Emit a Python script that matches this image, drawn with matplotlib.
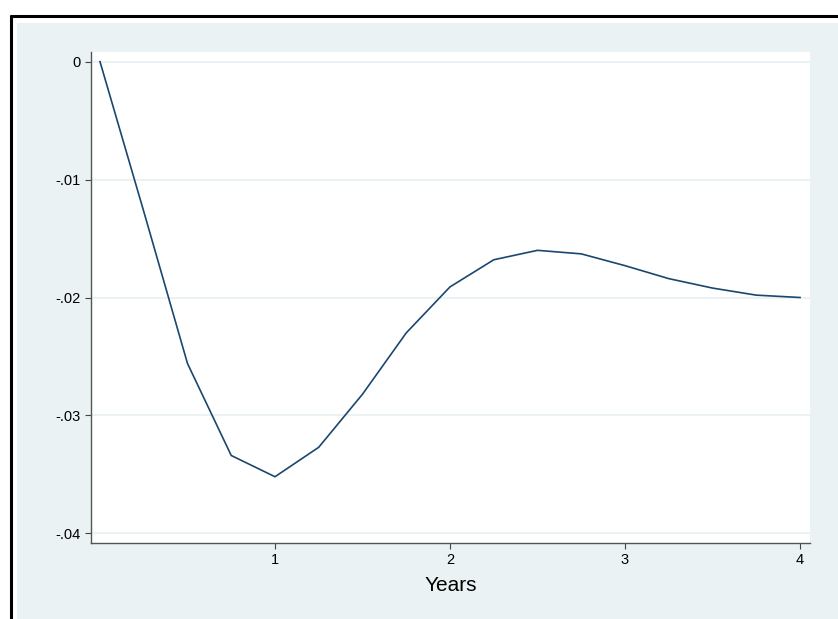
import matplotlib
matplotlib.use("Agg")
import matplotlib.pyplot as plt
from matplotlib.lines import Line2D
from matplotlib.patches import Rectangle

# quarterly response
years = [0, 0.25, 0.5, 0.75, 1, 1.25, 1.5, 1.75, 2,
         2.25, 2.5, 2.75, 3, 3.25, 3.5, 3.75, 4]
response = [0.0, -0.0127, -0.0256, -0.0334, -0.0352, -0.0327, -0.0282,
            -0.0230, -0.0191, -0.0168, -0.0160, -0.0163, -0.0173,
            -0.0184, -0.0192, -0.0198, -0.0200]

yticks = [0, -0.01, -0.02, -0.03, -0.04]
ytick_labels = ["0", "-.01", "-.02", "-.03", "-.04"]
xticks = [1, 2, 3, 4]
xlabel = "Years"

W, H = 838, 619
PANEL = "#eaf2f3"
NAVY = "#1a476f"

plt.rcParams["font.family"] = ["Liberation Sans", "DejaVu Sans"]

fig = plt.figure(figsize=(W / 100, H / 100), dpi=100)
fig.patch.set_facecolor("white")


def fx(px):
    return px / W


def fy(py):
    return 1 - py / H


# light panel and the black outer frame (cut off at right/bottom)
fig.add_artist(Rectangle((fx(17), 0), 1 - fx(17), fy(23), transform=fig.transFigure,
                         facecolor=PANEL, edgecolor="none", zorder=0))
fig.add_artist(Line2D([fx(10.5), fx(10.5)], [0, fy(15)], transform=fig.transFigure,
                      color="black", linewidth=2.2, solid_capstyle="butt"))
fig.add_artist(Line2D([fx(9.5), 1], [fy(16), fy(16)], transform=fig.transFigure,
                      color="black", linewidth=2.2, solid_capstyle="butt"))

ax = fig.add_axes([fx(91), fy(543), fx(810) - fx(91), fy(52) - fy(543)])
ax.set_facecolor("white")

ax.plot(years, response, color=NAVY, linewidth=1.2, zorder=3)

ax.set_xlim(-0.0514, 4.057)
ax.set_ylim(-0.04082, 0.00082)
ax.set_xticks(xticks)
ax.set_xticklabels([str(t) for t in xticks])
ax.set_yticks(yticks)
ax.set_yticklabels(ytick_labels)
ax.set_xlabel(xlabel, fontsize=15, labelpad=6)

ax.grid(True, axis="y", color=PANEL, linewidth=1.4)
ax.set_axisbelow(True)
for side in ("top", "right"):
    ax.spines[side].set_visible(False)
for side in ("left", "bottom"):
    ax.spines[side].set_color("#555555")
    ax.spines[side].set_linewidth(1.0)
ax.tick_params(axis="both", direction="out", length=4.5, width=0.8,
               color="#444444", labelsize=10.5, labelcolor="black", pad=3)

fig.savefig("out.png", dpi=100, facecolor=fig.get_facecolor())
